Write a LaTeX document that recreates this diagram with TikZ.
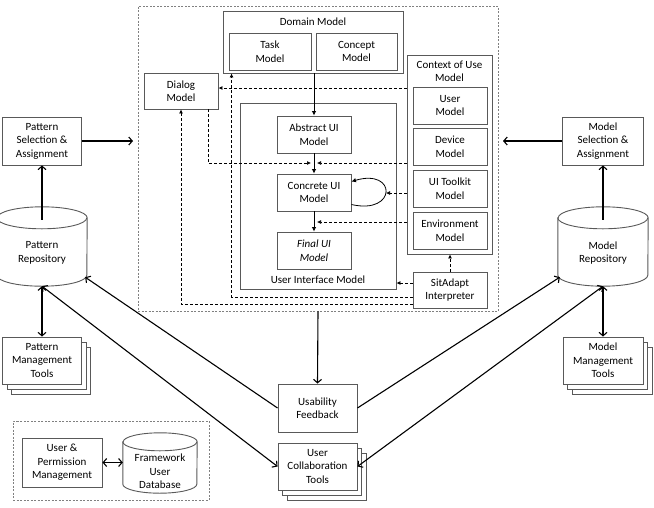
\documentclass[tikz,border=0pt]{standalone}
\usepackage{fontspec}
\setmainfont{Carlito}
\usetikzlibrary{arrows.meta,shadows,calc}
\newcommand\mycyl[3]{%
 \draw[boxline] ($(#1.north west)+(0,#3)$) -- ($(#1.south west)+(0,-#3)$) arc[start angle=180,end angle=360,x radius=#2pt,y radius=#3pt] -- ($(#1.north east)+(0,#3)$) arc[start angle=0,end angle=180,x radius=#2pt,y radius=#3pt] -- cycle;
 \draw[boxline,fill=none] ($(#1.north west)+(0,#3)$) arc[start angle=180,end angle=360,x radius=#2pt,y radius=#3pt];}
\begin{document}
\begin{tikzpicture}[x=1pt,y=-1pt,
 txt/.style={font=\fontsize{11}{13.5}\selectfont, align=center, inner sep=0pt},
 box/.style={txt, draw=black!65, line width=0.9pt, fill=white},
 stack/.style={box, double copy shadow={shadow xshift=4.5pt, shadow yshift=-5pt}},
 boxline/.style={draw=black!65, line width=0.9pt, fill=white},
 arr/.style={line width=1.1pt, -{Straight Barb[length=3.5pt,width=8pt]}},
 darr/.style={line width=1.1pt, {Straight Barb[length=3.5pt,width=8pt]}-{Straight Barb[length=3.5pt,width=8pt]}},
 sarr/.style={line width=0.8pt, -{Latex[length=4.5pt,width=4.5pt]}},
 dl/.style={line width=0.7pt, dash pattern=on 3pt off 2pt},
 da/.style={dl, -{Latex[length=4pt,width=4pt]}},
 grp/.style={draw=black!50, line width=0.8pt, dash pattern=on 2pt off 1.5pt, inner sep=0pt}]
\useasboundingbox (0,0) rectangle (654,507);
% main group
\node[grp, minimum width=360pt, minimum height=305pt] (main) at (318,158.5) {};
\node[box, minimum width=180pt, minimum height=62pt] (domain) at (313,42) {};
\node[txt] (domainT) at (313,21.5) {Domain Model};
\node[box, minimum width=82pt, minimum height=37pt] (task) at (270,51.5) {Task\\Model};
\node[box, minimum width=81pt, minimum height=37pt] (concept) at (356.5,51.5) {Concept\\Model};
\node[box, minimum width=74pt, minimum height=36pt] (dialog) at (181,91) {Dialog\\Model};
\node[box, minimum width=156pt, minimum height=186pt] (uim) at (318,196) {};
\node[txt] (uimT) at (318,280) {User Interface Model};
\node[box, minimum width=74pt, minimum height=37pt] (abstract) at (314,134.5) {Abstract UI\\Model};
\node[box, minimum width=74pt, minimum height=37pt] (concrete) at (314,192.5) {Concrete UI\\Model};
\node[box, minimum width=74pt, minimum height=37pt, font=\fontsize{11}{13.5}\selectfont\itshape] (final) at (314,250.5) {Final UI\\Model};
\node[box, minimum width=85pt, minimum height=199pt] (ctx) at (449.5,154.5) {};
\node[txt] (ctxT) at (449.5,71.5) {Context of Use\\Model};
\node[box, minimum width=74pt, minimum height=37pt] (user) at (450,105.5) {User\\Model};
\node[box, minimum width=74pt, minimum height=37pt] (device) at (450,146.5) {Device\\Model};
\node[box, minimum width=74pt, minimum height=37pt] (toolkit) at (450,188.5) {UI Toolkit\\Model};
\node[box, minimum width=74pt, minimum height=37pt] (env) at (450,230.5) {Environment\\Model};
\node[box, minimum width=74pt, minimum height=36pt] (sit) at (450,290) {SitAdapt\\Interpreter};
% left side
\node[box, minimum width=79pt, minimum height=48pt] (psel) at (42,141) {Pattern\\Selection \&\\Assignment};
\node[inner sep=0pt, minimum width=90pt, minimum height=79pt] (prepo) at (42,246.5) {};
\mycyl{prepo}{45}{11}
\node[txt] (prepoT) at (42,253) {Pattern\\Repository};
\node[stack, minimum width=79pt, minimum height=47pt] (pmt) at (42,360.5) {Pattern\\Management\\Tools};
\node[grp, minimum width=196pt, minimum height=79pt] (uperm) at (111,460.5) {};
\node[box, minimum width=80pt, minimum height=49pt] (upm) at (62,462.5) {User \&\\Permission\\Management};
\node[inner sep=0pt, minimum width=74pt, minimum height=60pt] (fudb) at (160,463) {};
\mycyl{fudb}{37}{9}
\node[txt] (fudbT) at (160,471.5) {Framework\\User\\Database};
% bottom middle
\node[box, minimum width=79pt, minimum height=48pt] (usab) at (317.5,408) {Usability\\Feedback};
\node[stack, minimum width=79pt, minimum height=47pt] (ucol) at (317.5,466.5) {User\\Collaboration\\Tools};
% right side
\node[box, minimum width=81pt, minimum height=48pt] (msel) at (603,141) {Model\\Selection \&\\Assignment};
\node[inner sep=0pt, minimum width=90pt, minimum height=79pt] (mrepo) at (603,246.5) {};
\mycyl{mrepo}{45}{11}
\node[txt] (mrepoT) at (603,253) {Model\\Repository};
\node[stack, minimum width=80pt, minimum height=47pt] (mmt) at (603,360.5) {Model\\Management\\Tools};
% coordinates
\coordinate (pin) at (133,141);
\coordinate (min) at (503,141);
\coordinate (jL) at (311,163);
\coordinate (jR) at (317,163);
\coordinate (loopR) at (386,193);
\coordinate (envE) at (317,222);
% solid connectors
\draw[arr] (psel.east) -- (pin);
\draw[arr] (msel.west) -- (min);
\draw[arr] ($(prepo.north)+(0,13)$) -- (psel.south);
\draw[arr] ($(mrepo.north)+(0,13)$) -- (msel.south);
\draw[darr] (prepo.south) -- (pmt.north);
\draw[darr] (mrepo.south) -- (mmt.north);
\draw[arr] (usab.west) -- ($(prepo.south east)+(-2,-9)$);
\draw[darr] (ucol.west) -- (prepo.south);
\draw[arr] (usab.east) -- ($(mrepo.south west)+(2,-9)$);
\draw[darr] (ucol.east) -- (mrepo.south);
\draw[arr] (main.south) -- (usab.north);
\draw[darr] (upm.east) -- (upm.east -| fudb.west);
% inner solid
\draw[sarr] (abstract.north |- domain.south) -- (abstract.north);
\draw[sarr] (abstract.south) -- (concrete.north);
\draw[sarr] (concrete.south) -- (final.north);
\draw[sarr] ([yshift=-12pt]concrete.east) .. controls (397,215) and (397,168) .. ([yshift=11pt]concrete.east);
% dashed
\draw[da] ([xshift=27pt]dialog.south) |- (jL);
\draw[da] (ctx.west |- jR) -- (jR);
\draw[da] (ctx.west |- 0,88) -- (dialog.east |- 0,88);
\draw[da] (sit.north) -- (sit.north |- ctx.south);
\draw[da] (sit.west |- 0,283) -- (uim.east |- 0,283);
\draw[da] (sit.west |- 0,297) -| ([xshift=9pt]domain.south west);
\draw[da] (sit.west |- 0,304) -| (dialog.south);
\draw[da] (ctx.west |- loopR) -- (loopR);
\draw[da] (ctx.west |- envE) -- (envE);
\end{tikzpicture}
\end{document}
